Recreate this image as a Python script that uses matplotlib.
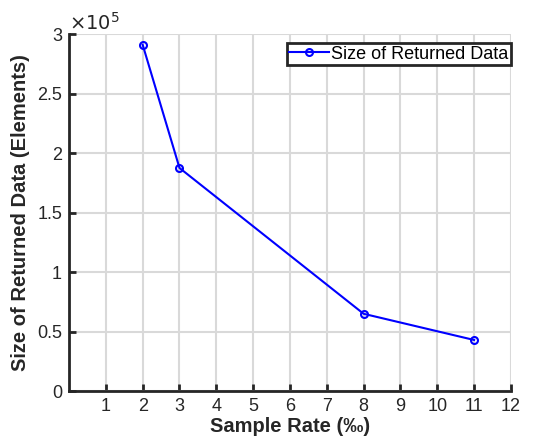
import matplotlib
matplotlib.use("Agg")
import matplotlib.pyplot as plt
from matplotlib.ticker import FuncFormatter

plt.rcParams['font.family'] = ['Liberation Sans', 'DejaVu Sans']

# data
sample_rate = [2, 3, 8, 11]
returned_size = [2.91e5, 1.875e5, 0.65e5, 0.43e5]
xticks = list(range(1, 13))
yticks = [0, 0.5e5, 1e5, 1.5e5, 2e5, 2.5e5, 3e5]

fig = plt.figure(figsize=(5.35, 4.42), dpi=100)
ax = fig.add_axes([0.129, 0.115, 0.826, 0.808])

ax.plot(sample_rate, returned_size, color='blue', linewidth=1.5, marker='o',
        markersize=5, markerfacecolor='none', markeredgewidth=1.5,
        label='Size of Returned Data')

ax.set_xlim(0, 12)
ax.set_ylim(0, 3e5)
ax.set_xticks(xticks)
ax.set_yticks(yticks)
ax.yaxis.set_major_formatter(FuncFormatter(lambda v, p: '%g' % (v / 1e5)))
ax.grid(True, color='#d9d9d9', linewidth=1.5)
ax.set_axisbelow(True)

for s in ['top', 'right']:
    ax.spines[s].set_visible(False)
for s in ['left', 'bottom']:
    ax.spines[s].set_linewidth(2)
    ax.spines[s].set_color('#262626')
ax.tick_params(direction='in', length=5, width=2, color='#262626',
               labelsize=13, labelcolor='#262626', pad=5)

ax.text(0.0, 1.0, r'$\times10^5$', transform=ax.transAxes, fontsize=14,
        color='#262626', va='bottom', ha='left')

ax.set_xlabel('Sample Rate (‰)', fontsize=14.5, fontweight='bold', color='#262626', labelpad=1)
ax.set_ylabel('Size of Returned Data (Elements)', fontsize=14.5, fontweight='bold',
              color='#262626', labelpad=5)

leg = ax.legend(loc='upper right', bbox_to_anchor=(1.0, 0.975), fontsize=13,
                fancybox=False, framealpha=1, handlelength=2.2, handletextpad=0.1,
                borderpad=0.15, borderaxespad=0)
leg.get_frame().set_edgecolor('#262626')
leg.get_frame().set_linewidth(2)

fig.savefig('out.png', dpi=100)
